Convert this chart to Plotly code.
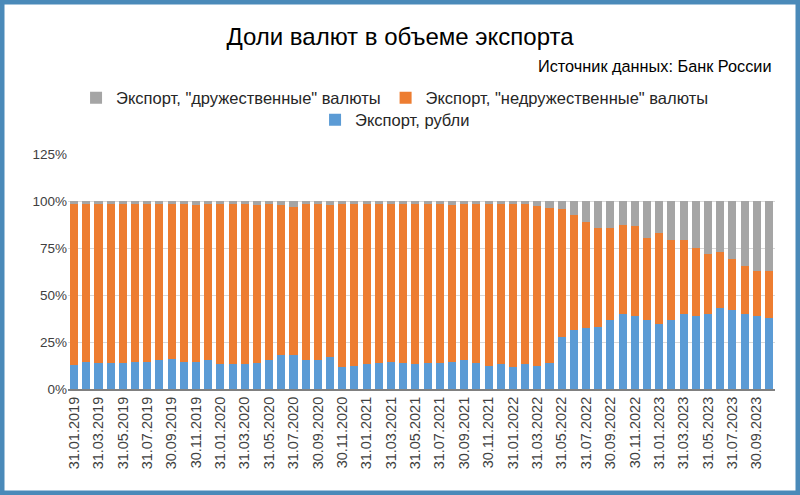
import pandas as pd
import plotly.graph_objects as go

# month-end report dates, Jan 2019 .. Oct 2023
dates = [d.strftime("%d.%m.%Y") for d in pd.date_range("2019-01-31", "2023-10-31", freq="ME")]

# shares of export, %
rub = [
    12.7, 14.5, 13.9, 13.9, 13.9, 14.5, 14.5, 15.3, 16.0, 14.5,
    14.5, 15.3, 13.4, 13.4, 13.4, 13.9, 15.3, 18.2, 18.3, 15.3,
    15.3, 16.8, 11.8, 12.5, 13.4, 13.9, 14.5, 13.9, 13.4, 13.9,
    13.9, 14.5, 15.3, 13.9, 12.5, 13.4, 11.8, 13.4, 12.5, 13.9,
    27.5, 31.6, 32.5, 33.0, 36.7, 40.0, 38.8, 36.7, 34.6, 36.7,
    40.0, 38.8, 40.0, 43.0, 42.2, 40.0, 38.8, 37.9,
]
unfriendly = [
    85.9, 84.1, 84.7, 84.7, 84.7, 84.1, 84.1, 83.3, 82.6, 84.1,
    83.4, 83.3, 85.2, 85.2, 85.2, 84.0, 83.3, 79.7, 78.7, 83.3,
    83.3, 81.1, 86.8, 86.1, 85.2, 84.7, 84.1, 84.7, 85.2, 84.7,
    84.7, 83.4, 83.3, 84.7, 86.1, 85.2, 86.8, 85.2, 84.7, 82.6,
    68.4, 60.8, 56.2, 52.9, 48.7, 47.5, 47.8, 43.5, 48.6, 42.8,
    39.0, 36.0, 31.8, 29.7, 26.8, 25.4, 23.8, 24.7,
]
friendly = [
    1.4, 1.4, 1.4, 1.4, 1.4, 1.4, 1.4, 1.4, 1.4, 1.4,
    2.1, 1.4, 1.4, 1.4, 1.4, 2.1, 1.4, 2.1, 3.0, 1.4,
    1.4, 2.1, 1.4, 1.4, 1.4, 1.4, 1.4, 1.4, 1.4, 1.4,
    1.4, 2.1, 1.4, 1.4, 1.4, 1.4, 1.4, 1.4, 2.8, 3.5,
    4.1, 7.6, 11.3, 14.1, 14.6, 12.5, 13.4, 19.8, 16.8, 20.5,
    21.0, 25.2, 28.2, 27.3, 31.0, 34.6, 37.4, 37.4,
]

tick_labels = dates[::2]

W, H = 800, 495
L, R, T, B = 68, 25, 154, 106
pw, ph = W - L - R, H - T - B

FONT = "Liberation Sans, Arial, sans-serif"

fig = go.Figure()
fig.add_trace(go.Bar(x=dates, y=rub, name="Экспорт, рубли",
                     marker=dict(color="#5B9BD5", line=dict(width=0)), legend="legend2"))
fig.add_trace(go.Bar(x=dates, y=unfriendly, name='Экспорт, "недружественные" валюты',
                     marker=dict(color="#ED7D31", line=dict(width=0)), legend="legend", legendrank=2))
fig.add_trace(go.Bar(x=dates, y=friendly, name='Экспорт, "дружественные" валюты',
                     marker=dict(color="#A5A5A5", line=dict(width=0)), legend="legend", legendrank=1))

legend_x = (W / 2 - L) / pw - 0.007

fig.update_layout(
    width=W, height=H,
    barmode="stack", bargap=0.34,
    margin=dict(l=L, r=R, t=T, b=B),
    paper_bgcolor="white", plot_bgcolor="white",
    font=dict(family=FONT, size=13, color="#595959"),
    title=dict(text="Доли валют в объеме экспорта", x=0.5, xanchor="center",
               y=1 - 37 / H, yanchor="middle",
               font=dict(family=FONT, size=24, color="black")),
    legend=dict(orientation="h", x=legend_x, xanchor="center",
                y=(H - B - 98) / ph, yanchor="middle", bgcolor="rgba(0,0,0,0)",
                font=dict(family=FONT, size=16.5, color="#262626"),
                traceorder="normal", itemclick=False),
    legend2=dict(orientation="h", x=legend_x, xanchor="center",
                 y=(H - B - 120) / ph, yanchor="middle", bgcolor="rgba(0,0,0,0)",
                 font=dict(family=FONT, size=16.5, color="#262626"),
                 itemclick=False),
    xaxis=dict(type="category", tickmode="array", tickvals=tick_labels, ticktext=tick_labels,
               tickangle=-90, tickfont=dict(size=14.5, color="#404040"),
               showline=True, linecolor="#808080", linewidth=2, ticks="",
               showgrid=False),
    yaxis=dict(range=[0, 125], dtick=25, ticksuffix="%",
               tickfont=dict(size=13.5, color="#404040"),
               showgrid=True, gridcolor="#D9D9D9", gridwidth=1,
               zeroline=False, showline=False, ticks=""),
    annotations=[dict(text="Источник данных: Банк России", xref="paper", yref="paper",
                      x=(774 - L) / pw, y=(H - B - 66) / ph, xanchor="right", yanchor="middle",
                      showarrow=False, font=dict(family=FONT, size=16.3, color="black"))],
    shapes=[dict(type="rect", xref="paper", yref="paper",
                 x0=-L / pw, x1=(W - L) / pw, y0=-B / ph, y1=(H - B) / ph,
                 line=dict(color="#4A8AB9", width=9), fillcolor="rgba(0,0,0,0)")],
)

# drop the default page margin so the figure sits at the window corner
fig.write_html("out.html", config={"displayModeBar": False},
               post_script="document.body.style.margin='0';")
